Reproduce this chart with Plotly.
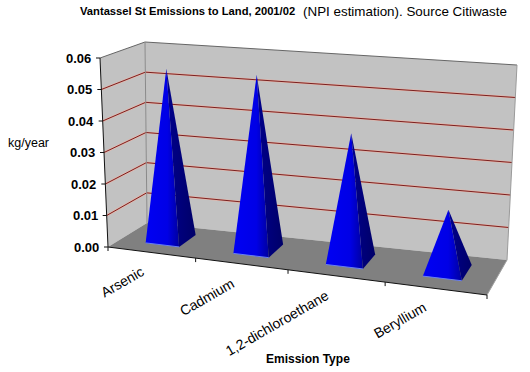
import plotly.graph_objects as go

categories = ["Arsenic", "Cadmium", "1,2-dichloroethane", "Beryllium"]
values = [0.055, 0.0553, 0.0394, 0.0188]
y_ticks = [0.00, 0.01, 0.02, 0.03, 0.04, 0.05, 0.06]
y_max = 0.06

# projection of the box (category position u, depth d, value v) onto the page
FLOOR = {(0, 0): (108, 247), (1, 0): (487, 295), (0, 1): (147, 223), (1, 1): (507, 260)}
ROOF = {(0, 0): (100, 58), (1, 0): (491, 91), (0, 1): (145, 42), (1, 1): (517, 65)}
WARP = 0.1  # foreshortening along the category axis


def P(u, d, v):
    u = u - WARP * u * (1 - u)
    w = v / y_max
    res = []
    for i in (0, 1):
        def bil(c):
            return ((1 - u) * (1 - d) * c[(0, 0)][i] + u * (1 - d) * c[(1, 0)][i]
                    + (1 - u) * d * c[(0, 1)][i] + u * d * c[(1, 1)][i])
        res.append((1 - w) * bil(FLOOR) + w * bil(ROOF))
    return tuple(res)


fig = go.Figure()


def poly(points, color=None, gradient=None):
    xs = [p[0] for p in points] + [points[0][0]]
    ys = [p[1] for p in points] + [points[0][1]]
    kw = dict(fillgradient=gradient) if gradient else dict(fillcolor=color)
    fig.add_trace(go.Scatter(x=xs, y=ys, mode="lines", fill="toself", line=dict(width=0),
                             hoverinfo="skip", showlegend=False, **kw))


def line(a, b, color, width=1):
    fig.add_trace(go.Scatter(x=[a[0], b[0]], y=[a[1], b[1]], mode="lines",
                             line=dict(color=color, width=width), hoverinfo="skip", showlegend=False))


# walls and floor
poly([P(0, 0, 0), P(0, 1, 0), P(0, 1, y_max), P(0, 0, y_max)], color="#c2c2c2")
poly([P(0, 1, 0), P(1, 1, 0), P(1, 1, y_max), P(0, 1, y_max)], color="#c2c2c2")
poly([P(0, 0, 0), P(1, 0, 0), P(1, 1, 0), P(0, 1, 0)], color="#808080")

# gridlines
for t in y_ticks[1:-1]:
    for a, b in ((P(0, 0, t), P(0, 1, t)), (P(0, 1, t), P(1, 1, t))):
        line(a, b, "#e6b4a8", 2.2)
        line(a, b, "#7a2020", 1)

# wall outlines
line(P(0, 0, y_max), P(0, 1, y_max), "#666666")
line(P(0, 1, y_max), P(1, 1, y_max), "#666666")
line(P(0, 1, 0), P(0, 1, y_max), "#8a8a8a")
line(P(1, 1, 0), P(1, 1, y_max), "#9a9a9a")
line(P(1, 1, 0), P(1, 0, 0), "#a0a0a0")

# pyramids
half_w = 0.0485
for i, val in enumerate(values):
    c = (i + 0.5) / len(categories)
    fl, fr = P(c - half_w, 0.3, 0), P(c + half_w, 0.3, 0)
    br = P(c + half_w, 0.76, 0)
    apex = P(c, 0.5, val)
    poly([fl, fr, apex], gradient=dict(type="horizontal", colorscale=[[0, "#0000f4"], [0.65, "#0000e6"], [1, "#0000a0"]]))
    poly([fr, br, apex], gradient=dict(type="horizontal", colorscale=[[0, "#00008c"], [1, "#000068"]]))
    line(fl, fr, "#6a80f0", 1)

# axes
line(P(0, 0, 0), P(0, 0, y_max), "#111111")
line(P(0, 0, 0), P(1, 0, 0), "#111111")

annotations = []
for t in y_ticks:
    x, y = P(0, 0, t)
    line((x - 4, y), (x, y), "#111111")
    annotations.append(dict(x=x - 7, y=y, text=f"<b>{t:.2f}</b>", xanchor="right", yanchor="middle",
                            showarrow=False, font=dict(size=13)))
for j in range(len(categories) + 1):
    x, y = P(j / len(categories), 0, 0)
    line((x, y), (x, y + 4), "#111111")

label_pos = [(122, 282), (207, 297), (277, 323), (400, 320)]
for name, (x, y) in zip(categories, label_pos):
    annotations.append(dict(x=x, y=y, text=name, textangle=-30, showarrow=False, font=dict(size=14)))

annotations += [
    dict(x=78, y=11, text="<b>Vantassel St Emissions to Land, 2001/02</b>", xanchor="left",
         showarrow=False, font=dict(size=11.2)),
    dict(x=301, y=11, text="(NPI estimation). Source Citiwaste", xanchor="left",
         showarrow=False, font=dict(size=13.4)),
    dict(x=28, y=143, text="kg/year", showarrow=False, font=dict(size=12.5)),
    dict(x=308, y=359, text="<b>Emission Type</b>", showarrow=False, font=dict(size=12)),
]

fig.update_layout(
    width=530, height=372, margin=dict(l=0, r=0, t=0, b=0),
    paper_bgcolor="white", plot_bgcolor="white",
    font=dict(family="Liberation Sans, Arial, sans-serif", color="#000000"),
    xaxis=dict(range=[0, 530], visible=False, fixedrange=True),
    yaxis=dict(range=[372, 0], visible=False, fixedrange=True),
    annotations=annotations, showlegend=False,
)
fig.write_html("out.html", config={"displayModeBar": False},
               post_script="document.body.style.margin='0';")
